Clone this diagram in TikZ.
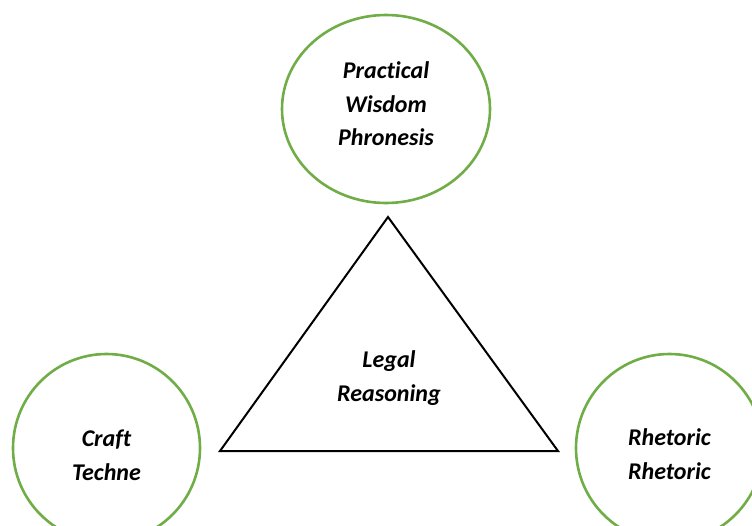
\documentclass[tikz,border=0pt]{standalone}
\usepackage{fontspec}
\setmainfont[Ligatures=NoCommon]{Carlito}
\usetikzlibrary{shapes.geometric}
\definecolor{leafgreen}{RGB}{112,173,71}

\tikzset{
  virtue/.style={ellipse, draw=leafgreen, line width=2.6pt, inner sep=0pt},
  caption/.style={align=center, inner sep=0pt, font=\fontsize{24}{33.5}\selectfont\bfseries\itshape}
}

\begin{document}
\begin{tikzpicture}[x=1pt, y=-1pt]

\useasboundingbox (0,0) rectangle (752,525);

\node[virtue, minimum width=208pt, minimum height=188pt] (phronesis) at (386,109) {};
\node[virtue, minimum width=187pt, minimum height=188pt] (techne) at (106.5,448) {};
\node[virtue, minimum width=187pt, minimum height=188pt] (rhetoric) at (669.5,448) {};

\node[caption] (phronesis text) at ([yshift=5pt]phronesis.center) {Practical\\Wisdom\\Phronesis};
\node[caption] (techne text) at ([yshift=-7pt]techne.center) {Craft\\Techne};
\node[caption] (rhetoric text) at ([yshift=-6pt]rhetoric.center) {Rhetoric\\Rhetoric};

\draw[line width=2pt, line join=miter] (388,217) -- (558,451) -- (220,451) -- cycle;
\node[caption] (reasoning) at (389,378) {Legal\\Reasoning};

\end{tikzpicture}
\end{document}
